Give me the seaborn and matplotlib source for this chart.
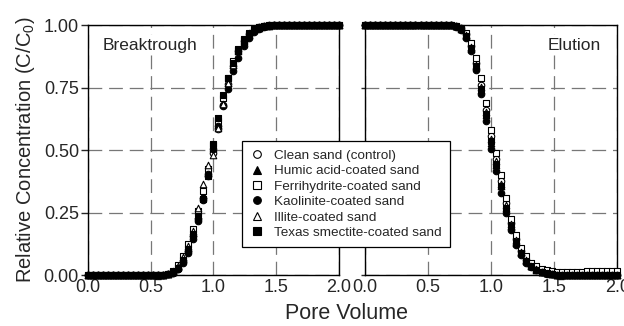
import matplotlib
matplotlib.use("Agg")
import matplotlib.pyplot as plt
import seaborn as sns

# pore volume sampling (shared by all series)
pore_volume = [0.00, 0.04, 0.08, 0.12, 0.16, 0.20, 0.24, 0.28, 0.32, 0.36,
               0.40, 0.44, 0.48, 0.52, 0.56, 0.60, 0.64, 0.68, 0.72, 0.76,
               0.80, 0.84, 0.88, 0.92, 0.96, 1.00, 1.04, 1.08, 1.12, 1.16,
               1.20, 1.24, 1.28, 1.32, 1.36, 1.40, 1.44, 1.48, 1.52, 1.56,
               1.60, 1.64, 1.68, 1.72, 1.76, 1.80, 1.84, 1.88, 1.92, 1.96, 2.00]

labels = ["Clean sand (control)", "Humic acid-coated sand", "Ferrihydrite-coated sand",
          "Kaolinite-coated sand", "Illite-coated sand", "Texas smectite-coated sand"]
markers = ["o", "^", "s", "o", "^", "s"]
faces = ["white", "black", "white", "black", "white", "black"]

# breakthrough C/C0
bt_clean = [0, 0, 0, 0, 0, 0, 0, 0, 0, 0, 0, 0, 0, 0, 0,
            0.000, 0.003, 0.010, 0.025, 0.055, 0.095, 0.155, 0.225, 0.310, 0.395, 0.490,
            0.585, 0.680, 0.765, 0.835, 0.895, 0.935, 0.965, 0.982, 0.991, 0.996, 0.999,
            1, 1, 1, 1, 1, 1, 1, 1, 1, 1, 1, 1, 1, 1]
bt_humic = [0, 0, 0, 0, 0, 0, 0, 0, 0, 0, 0, 0, 0, 0, 0,
            0.000, 0.005, 0.014, 0.034, 0.065, 0.110, 0.170, 0.240, 0.320, 0.410, 0.510,
            0.600, 0.690, 0.770, 0.840, 0.895, 0.935, 0.962, 0.980, 0.990, 0.995, 0.998,
            1, 1, 1, 1, 1, 1, 1, 1, 1, 1, 1, 1, 1, 1]
bt_ferri = [0, 0, 0, 0, 0, 0, 0, 0, 0, 0, 0, 0, 0, 0, 0,
            0.000, 0.006, 0.018, 0.040, 0.075, 0.125, 0.185, 0.255, 0.335, 0.425, 0.520,
            0.615, 0.710, 0.790, 0.855, 0.905, 0.945, 0.970, 0.985, 0.993, 0.997, 0.999,
            1, 1, 1, 1, 1, 1, 1, 1, 1, 1, 1, 1, 1, 1]
bt_kaol = [0, 0, 0, 0, 0, 0, 0, 0, 0, 0, 0, 0, 0, 0, 0,
           0.000, 0.003, 0.009, 0.024, 0.050, 0.090, 0.145, 0.215, 0.300, 0.405, 0.505,
           0.595, 0.675, 0.745, 0.815, 0.870, 0.915, 0.950, 0.972, 0.986, 0.993, 0.997,
           1, 1, 1, 1, 1, 1, 1, 1, 1, 1, 1, 1, 1, 1]
bt_illite = [0, 0, 0, 0, 0, 0, 0, 0, 0, 0, 0, 0, 0, 0, 0,
             0.000, 0.006, 0.016, 0.038, 0.072, 0.118, 0.178, 0.270, 0.365, 0.440, 0.480,
             0.590, 0.685, 0.770, 0.840, 0.900, 0.940, 0.968, 0.984, 0.992, 0.996, 0.999,
             1, 1, 1, 1, 1, 1, 1, 1, 1, 1, 1, 1, 1, 1]
bt_texas = [0, 0, 0, 0, 0, 0, 0, 0, 0, 0, 0, 0, 0, 0, 0,
            0.000, 0.004, 0.012, 0.030, 0.062, 0.105, 0.165, 0.235, 0.305, 0.395, 0.525,
            0.630, 0.720, 0.790, 0.850, 0.900, 0.940, 0.966, 0.982, 0.991, 0.996, 0.998,
            1, 1, 1, 1, 1, 1, 1, 1, 1, 1, 1, 1, 1, 1]

# elution C/C0
el_clean = [1, 1, 1, 1, 1, 1, 1, 1, 1, 1, 1, 1, 1, 1, 1, 1, 1, 1,
            0.996, 0.988, 0.965, 0.918, 0.848, 0.760, 0.660, 0.555, 0.465, 0.375, 0.290,
            0.210, 0.145, 0.097, 0.062, 0.039, 0.024, 0.014, 0.008, 0.004, 0.002, 0.001,
            0, 0, 0, 0, 0, 0, 0, 0, 0, 0, 0]
el_humic = [1, 1, 1, 1, 1, 1, 1, 1, 1, 1, 1, 1, 1, 1, 1, 1, 1, 1,
            0.995, 0.984, 0.958, 0.905, 0.835, 0.740, 0.640, 0.530, 0.440, 0.355, 0.270,
            0.195, 0.130, 0.088, 0.056, 0.035, 0.021, 0.012, 0.007, 0.003, 0.002, 0.001,
            0, 0, 0, 0, 0, 0, 0, 0, 0, 0, 0]
el_ferri = [1, 1, 1, 1, 1, 1, 1, 1, 1, 1, 1, 1, 1, 1, 1, 1, 1, 1,
            0.997, 0.990, 0.970, 0.930, 0.870, 0.790, 0.690, 0.580, 0.490, 0.400, 0.310,
            0.225, 0.160, 0.110, 0.075, 0.050, 0.035, 0.025, 0.019, 0.016, 0.014, 0.013,
            0.013, 0.013, 0.014, 0.014, 0.015, 0.015, 0.016, 0.016, 0.017, 0.017, 0.018]
el_kaol = [1, 1, 1, 1, 1, 1, 1, 1, 1, 1, 1, 1, 1, 1, 1, 1, 1, 1,
           0.994, 0.980, 0.950, 0.895, 0.820, 0.725, 0.615, 0.505, 0.415, 0.330, 0.250,
           0.180, 0.120, 0.080, 0.050, 0.031, 0.019, 0.011, 0.006, 0.003, 0.001, 0.000,
           0, 0, 0, 0, 0, 0, 0, 0, 0, 0, 0]
el_illite = [1, 1, 1, 1, 1, 1, 1, 1, 1, 1, 1, 1, 1, 1, 1, 1, 1, 1,
             0.996, 0.987, 0.962, 0.912, 0.842, 0.752, 0.652, 0.545, 0.455, 0.365, 0.280,
             0.205, 0.140, 0.093, 0.060, 0.038, 0.023, 0.014, 0.008, 0.004, 0.002, 0.001,
             0, 0, 0, 0, 0, 0, 0, 0, 0, 0, 0]
el_texas = [1, 1, 1, 1, 1, 1, 1, 1, 1, 1, 1, 1, 1, 1, 1, 1, 1, 1,
            0.995, 0.985, 0.958, 0.908, 0.838, 0.745, 0.645, 0.535, 0.445, 0.355, 0.268,
            0.195, 0.132, 0.088, 0.056, 0.035, 0.021, 0.012, 0.007, 0.004, 0.002, 0.001,
            0, 0, 0, 0, 0, 0, 0, 0, 0, 0, 0]

breakthrough = [bt_clean, bt_humic, bt_ferri, bt_kaol, bt_illite, bt_texas]
elution = [el_clean, el_humic, el_ferri, el_kaol, el_illite, el_texas]

sns.set_style("ticks")
plt.rcParams['font.family'] = ['Liberation Sans', 'DejaVu Sans']
plt.rcParams['mathtext.fontset'] = 'custom'
plt.rcParams['mathtext.rm'] = 'Liberation Sans'
plt.rcParams['mathtext.it'] = 'Liberation Sans'

fig = plt.figure(figsize=(6.24, 3.26), dpi=100)
ax1 = fig.add_axes([0.141, 0.156, 0.402, 0.767])
ax2 = fig.add_axes([0.585, 0.156, 0.404, 0.767])

for ax, panel in [(ax1, breakthrough), (ax2, elution)]:
    for ys, lab, m, fc in zip(panel, labels, markers, faces):
        sns.scatterplot(x=pore_volume, y=ys, marker=m, s=22, color=fc,
                        edgecolor="black", linewidth=0.8, ax=ax, label=lab,
                        clip_on=False, zorder=3, legend=False)
    ax.set_xlim(0, 2)
    ax.set_ylim(0, 1)
    ax.set_xticks([0.0, 0.5, 1.0, 1.5, 2.0])
    ax.set_xticklabels(["0.0", "0.5", "1.0", "1.5", "2.0"])
    ax.set_yticks([0.0, 0.25, 0.5, 0.75, 1.0])
    ax.grid(True, color="#777777", linestyle=(0, (11, 5.5)), linewidth=0.9)
    ax.set_axisbelow(True)
    for sp in ax.spines.values():
        sp.set_visible(True)
        sp.set_linewidth(1.0)
        sp.set_color("black")
    ax.tick_params(axis="y", direction="out", length=5, width=1, labelsize=13, pad=1.5)
    ax.tick_params(axis="x", length=0, labelsize=13, pad=3)

ax1.set_yticklabels(["0.00", "0.25", "0.50", "0.75", "1.00"])
ax2.set_yticklabels([])
ax2.tick_params(axis="y", length=3)

box = dict(facecolor="white", edgecolor="none", pad=2)
ax1.text(0.06, 0.92, "Breaktrough", transform=ax1.transAxes, fontsize=12.5,
         va="center", bbox=box, zorder=2)
ax2.text(0.935, 0.92, "Elution", transform=ax2.transAxes, fontsize=12.5,
         va="center", ha="right", bbox=box, zorder=2)

ax1.set_ylabel("Relative Concentration (C/C$_0$)", fontsize=14.5, labelpad=5)
fig.text(0.555, 0.005, "Pore Volume", fontsize=15.5, ha="center", va="bottom")

handles = []
for lab, m, fc in zip(labels, markers, faces):
    h, = ax1.plot([], [], linestyle="none", marker=m, markersize=5.5,
                  markerfacecolor=fc, markeredgecolor="black", markeredgewidth=0.8)
    handles.append(h)
leg = fig.legend(handles, labels, loc="upper left", bbox_to_anchor=(0.388, 0.566),
                 frameon=True, fancybox=False, edgecolor="black", framealpha=1,
                 fontsize=9.7, handletextpad=0.8, borderpad=0.6, labelspacing=0.22,
                 handlelength=1.0, borderaxespad=0)
leg.get_frame().set_linewidth(0.9)

fig.savefig("out.png", dpi=100)
